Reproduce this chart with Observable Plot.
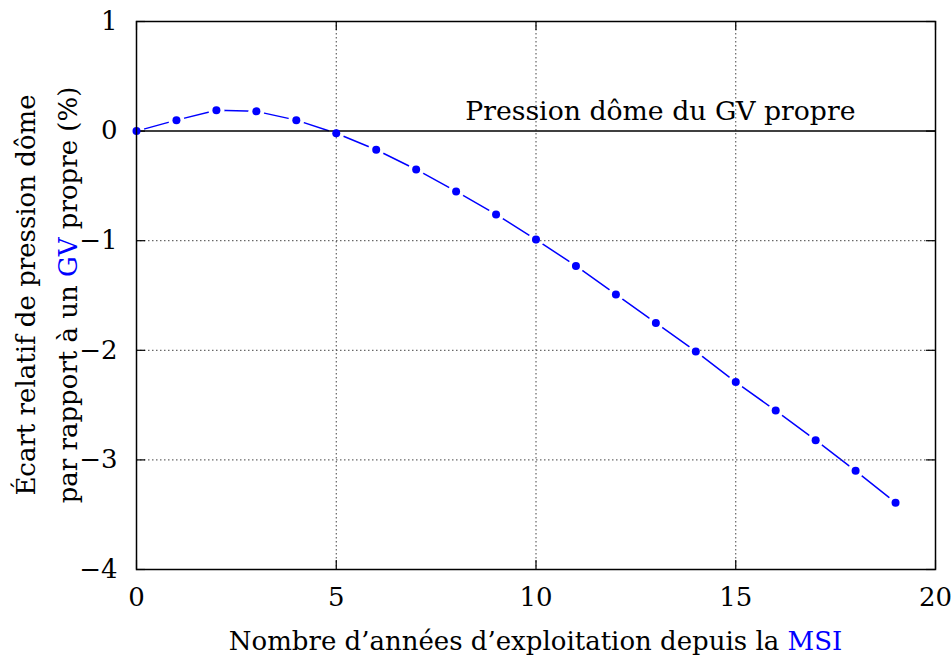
<!DOCTYPE html>
<html><head><meta charset="utf-8">
<script src="https://cdn.jsdelivr.net/npm/d3@7"></script>
<script src="https://cdn.jsdelivr.net/npm/@observablehq/plot@0.6"></script>
<style>body{margin:0;background:#fff}</style>
</head><body><div id="chart"></div>
<script>
const years = [0,1,2,3,4,5,6,7,8,9,10,11,12,13,14,15,16,17,18,19];
const ecart = [0,0.10,0.19,0.18,0.10,-0.02,-0.17,-0.35,-0.55,-0.76,-0.99,-1.23,-1.49,-1.75,-2.01,-2.29,-2.55,-2.82,-3.10,-3.39];
const xTicks = [0,5,10,15,20];
const yTicks = [-4,-3,-2,-1,0,1];
const xGrid = [5,10,15];
const yGrid = [-1,-2,-3];
const refLine = [0];
const refLabel = "Pression dôme du GV propre";
const xLabelParts = ["Nombre d’années d’exploitation depuis la ", "MSI"];
const yLabel1 = "Écart relatif de pression dôme";
const yLabel2Parts = ["par rapport à un ", "GV", " propre (%)"];

const data = years.map((x,i)=>({x, y: ecart[i]}));
const W = 952, H = 657, mL = 136, mR = 17, mT = 21, mB = 88;
const pw = W - mL - mR, ph = H - mT - mB;
const font = "DejaVu Serif";
const fs = 26;
const blue = "#0000ff";
const tl = 9;

const chart = Plot.plot({
  width: W, height: H,
  marginLeft: mL, marginRight: mR, marginTop: mT, marginBottom: mB,
  style: {fontFamily: font, fontSize: fs + "px", color: "#000", background: "#fff"},
  x: {domain: [0,20], ticks: xTicks, tickFormat: "d", label: null},
  y: {domain: [-4,1], ticks: yTicks, tickFormat: "d", label: null},
  marks: [
    Plot.line(data, {x:"x", y:"y", stroke: blue, strokeWidth: 1.5}),
    Plot.dot(data, {x:"x", y:"y", r: 8, fill: "#fff", stroke: null}),
    Plot.ruleX(xGrid, {stroke: "#444", strokeWidth: 1, strokeDasharray: "1.5,2.5"}),
    Plot.ruleY(yGrid, {stroke: "#444", strokeWidth: 1, strokeDasharray: "1.5,2.5"}),
    Plot.ruleY(refLine, {stroke: "#000", strokeWidth: 1.5}),
    Plot.text([refLabel], {frameAnchor: "right", y: refLine, dx: -80, dy: -11.5, textAnchor: "end", lineAnchor: "bottom", fontSize: 26.7}),
    Plot.tickX(xTicks, {x: d=>d, insetTop: ph - tl, stroke: "#000", strokeWidth: 1.2}),
    Plot.tickX(xTicks, {x: d=>d, insetBottom: ph - tl, stroke: "#000", strokeWidth: 1.2}),
    Plot.tickY(yTicks, {y: d=>d, insetRight: pw - tl, stroke: "#000", strokeWidth: 1.2}),
    Plot.tickY(yTicks, {y: d=>d, insetLeft: pw - tl, stroke: "#000", strokeWidth: 1.2}),
    Plot.dot(data, {x:"x", y:"y", r: 4, fill: blue, stroke: null}),
    Plot.axisX({ticks: xTicks, tickFormat: "d", tickSize: 0, tickPadding: 18, fontSize: fs}),
    Plot.axisY({ticks: yTicks, tickFormat: "d", tickSize: 0, tickPadding: 19, fontSize: fs}),
    Plot.frame({stroke: "#000", strokeWidth: 1.5})
  ]
});
document.getElementById("chart").appendChild(chart);

const svg = d3.select(chart);
const xl = svg.append("text")
  .attr("x", mL + pw / 2).attr("y", 650)
  .attr("text-anchor", "middle")
  .attr("font-family", font).attr("font-size", fs).attr("fill", "#000");
xl.append("tspan").text(xLabelParts[0]);
xl.append("tspan").attr("fill", blue).text(xLabelParts[1]);

const cy = 295;
svg.append("text")
  .attr("transform", `translate(35,${cy}) rotate(-90)`)
  .attr("text-anchor", "middle")
  .attr("font-family", font).attr("font-size", fs).attr("fill", "#000")
  .text(yLabel1);
const yl2 = svg.append("text")
  .attr("transform", `translate(77,${cy}) rotate(-90)`)
  .attr("text-anchor", "middle")
  .attr("font-family", font).attr("font-size", fs).attr("fill", "#000");
yl2.append("tspan").text(yLabel2Parts[0]);
yl2.append("tspan").attr("fill", blue).text(yLabel2Parts[1]);
yl2.append("tspan").text(yLabel2Parts[2]);
</script>
</body></html>
